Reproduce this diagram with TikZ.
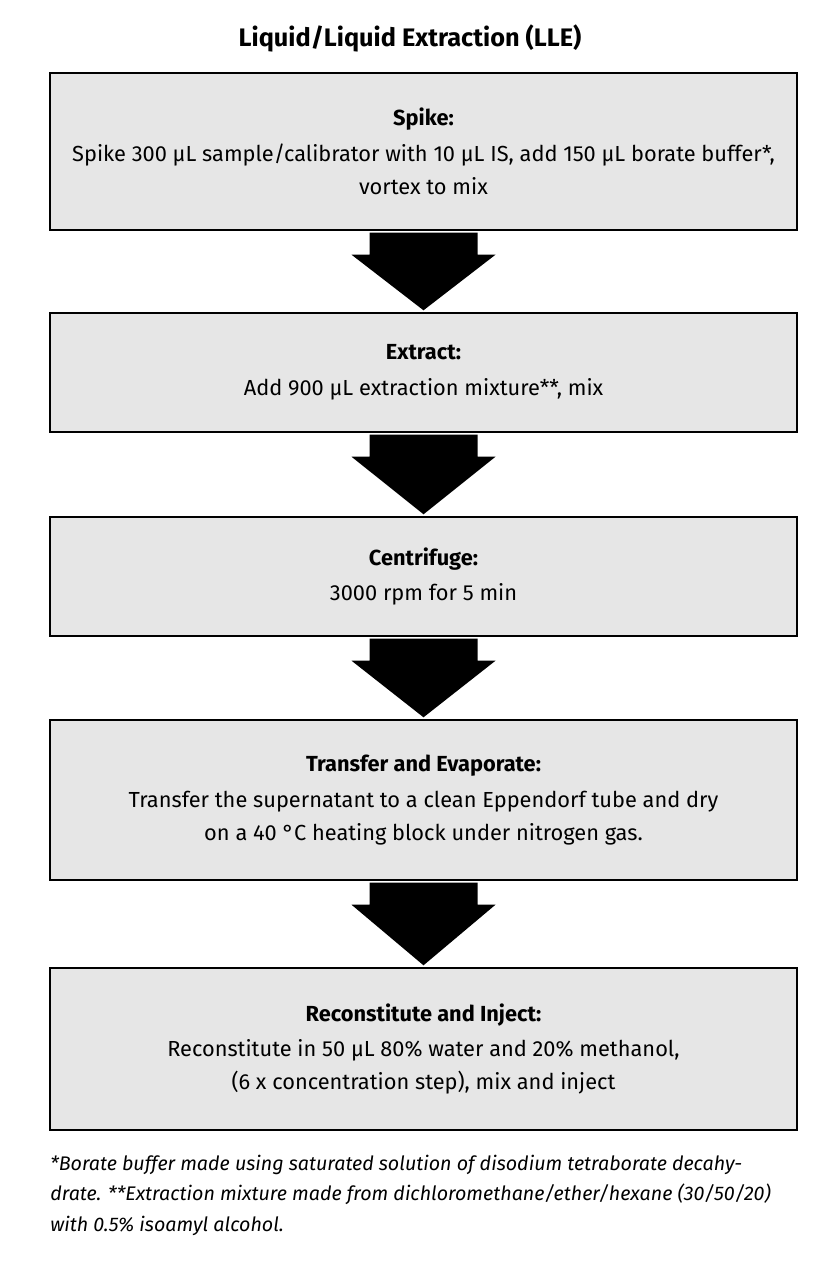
\documentclass[tikz,border=0pt]{standalone}
\usepackage{fontspec}
\setmainfont{Fira Sans}
\usetikzlibrary{positioning, calc}
\definecolor{boxgray}{RGB}{230,230,230}
\tikzset{
  stepbox/.style={draw, line width=1pt, fill=boxgray, minimum width=747*0.025cm, align=center, font=\fontsize{15.5}{23.5}\selectfont, inner sep=0pt},
  bigarrow/.style={fill=black, draw=none}
}
\newcommand{\downarrowto}[2]{%
  \fill[bigarrow] ($(#1.south)+(-54,2)$) -- ($(#1.south)+(54,2)$) -- ($(#1.south)+(54,24)$)
    -- ($(#1.south)+(72,24)$) -- ($(#2.north)+(0,-2)$) -- ($(#1.south)+(-72,24)$)
    -- ($(#1.south)+(-54,24)$) -- cycle;}
\begin{document}
\begin{tikzpicture}[x=0.025cm, y=-0.025cm]
\useasboundingbox (0,0) rectangle (819,1280);

\node (title) at (410,38) {\fontsize{18}{21}\selectfont\bfseries Liquid/Liquid Extraction (LLE)};

\node[stepbox, minimum height=157*0.025cm] (spike) at (423.5,151.5)
  {\textbf{Spike:}\\[2pt] Spike 300 µL sample/calibrator with 10 µL IS, add 150 µL borate buffer*,\\ vortex to mix};
\node[stepbox, minimum height=119*0.025cm] (extract) at (423.5,372.5)
  {\textbf{Extract:}\\[2pt] Add 900 µL extraction mixture**, mix};
\node[stepbox, minimum height=119*0.025cm] (centri) at (423.5,576.5)
  {\textbf{Centrifuge:}\\[2pt] 3000 rpm for 5 min};
\node[stepbox, minimum height=160*0.025cm] (transfer) at (423.5,800)
  {\textbf{Transfer and Evaporate:}\\[2pt] Transfer the supernatant to a clean Eppendorf tube and dry\\ on a 40 °C heating block under nitrogen gas.};
\node[stepbox, minimum height=162*0.025cm] (recon) at (423.5,1049)
  {\textbf{Reconstitute and Inject:}\\[2pt] Reconstitute in 50 µL 80\% water and 20\% methanol,\\ (6 x concentration step), mix and inject};

\downarrowto{spike}{extract}
\downarrowto{extract}{centri}
\downarrowto{centri}{transfer}
\downarrowto{transfer}{recon}

\node[anchor=north west, align=left, font=\fontsize{14}{21.5}\selectfont\itshape, inner sep=0pt] (notes) at (50,1155)
  {*Borate buffer made using saturated solution of disodium tetraborate decahy-\\
   drate. **Extraction mixture made from dichloromethane/ether/hexane (30/50/20)\\
   with 0.5\% isoamyl alcohol.};
\end{tikzpicture}
\end{document}
